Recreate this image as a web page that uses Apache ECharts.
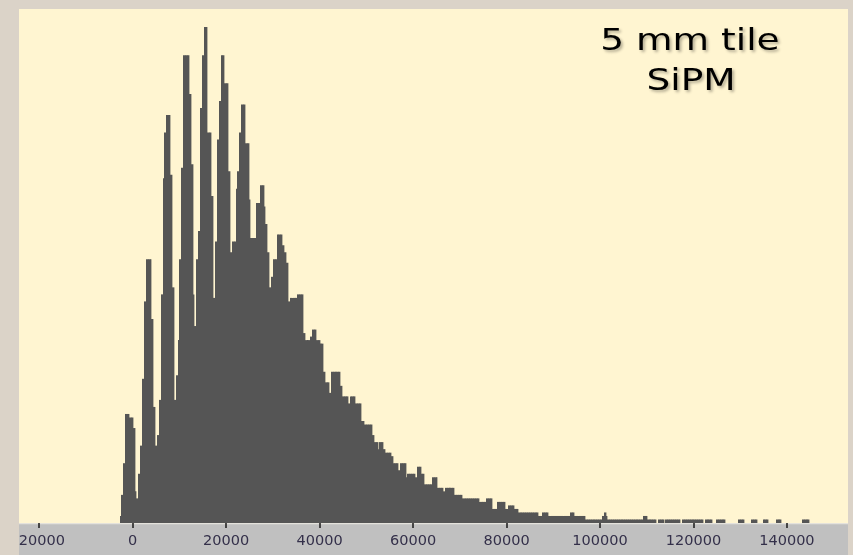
<!DOCTYPE html>
<html>
<head>
<meta charset="utf-8">
<script src="https://cdn.jsdelivr.net/npm/echarts@6/dist/echarts.min.js"></script>
<style>
html,body{margin:0;padding:0;background:#dbd3c8;}
#c{width:853px;height:555px;}
</style>
</head>
<body>
<div id="c"></div>
<script>
// Histogram of SiPM signal (5 mm tile)
const binStart = -2800;      // lower edge of first bin
const binWidth = 400;        // width of each bin
const counts = [
  2,8,17,31,31,30,30,27,9,7,
  14,22,41,63,75,75,75,58,33,22,
  25,35,65,98,111,116,116,99,67,35,
  42,52,75,101,133,133,133,122,102,65,
  56,75,83,118,133,141,141,111,111,93,
  64,80,109,120,133,133,125,125,100,77,
  80,80,95,100,111,119,119,108,108,92,
  81,81,81,91,91,96,96,90,85,77,
  67,70,75,75,82,82,82,79,77,74,
  63,64,64,64,64,65,65,65,54,52,
  52,52,53,55,55,52,52,51,51,43,
  40,40,37,43,43,43,43,43,39,36,
  36,36,34,36,36,36,34,34,34,29,
  29,28,28,28,28,25,23,23,21,23,
  23,21,20,20,20,19,17,17,17,15,
  17,17,17,13,14,14,14,14,13,16,
  16,14,14,11,11,11,11,13,13,13,
  10,10,10,9,10,10,10,10,10,8,
  8,8,8,7,7,7,7,7,7,7,
  7,7,6,6,6,6,7,7,7,4,
  4,4,6,6,6,6,4,4,5,5,
  5,4,4,3,3,3,3,3,3,3,
  3,3,3,3,2,2,3,3,3,2,
  2,2,2,2,2,2,2,2,2,2,
  2,3,3,2,2,2,2,2,2,1,
  1,1,1,1,1,1,1,1,2,3,
  2,1,1,1,1,1,1,1,1,1,
  1,1,1,1,1,1,1,1,1,1,
  2,2,1,1,1,1,1,0,1,1,
  1,0,1,1,1,1,1,1,1,1,
  0,1,1,1,1,1,1,1,1,1,
  1,1,0,1,1,1,1,0,0,1,
  1,1,1,1,0,0,0,0,0,0,
  0,1,1,1,0,0,0,0,1,1,
  1,0,0,0,1,1,1,0,0,0,
  0,1,1,1,0,0,0,0,0,0,
  0,0,0,0,0,1,1,1,1
];
const tickValues = [-20000, 0, 20000, 40000, 60000, 80000, 100000, 120000, 140000];
const titleLines = ['5 mm tile', 'SiPM'];

const binData = counts.map((c, i) => [binStart + i * binWidth, binStart + (i + 1) * binWidth, c]);

const chart = echarts.init(document.getElementById('c'), null, {renderer: 'canvas'});
chart.setOption({
  animation: false,
  backgroundColor: '#dbd3c8',
  grid: {left: 19, right: 5, top: 13, bottom: 32},
  xAxis: {
    type: 'value',
    min: -24330,
    max: 153070,
    position: 'bottom',
    offset: 3,
    axisLine: {show: false},
    splitLine: {show: false},
    axisTick: {show: true, customValues: tickValues, length: 5, inside: false,
      lineStyle: {color: '#1a1a1a', width: 1.5}},
    axisLabel: {customValues: tickValues, margin: 8, color: '#34304a',
      fontFamily: 'DejaVu Sans', fontSize: 14.5,
      formatter: v => String(v)}
  },
  yAxis: {
    type: 'value', min: 0, max: 145, show: false,
    splitLine: {show: false}
  },
  graphic: [
    {type: 'rect', z: -20, shape: {x: 19, y: 9, width: 829, height: 515}, style: {fill: '#fff5d1'}},
    {type: 'rect', z: -19, shape: {x: 19, y: 523, width: 829, height: 32}, style: {fill: '#c0c0c0'}},
    {type: 'rect', z: -18, shape: {x: 19, y: 523, width: 829, height: 1.2}, style: {fill: '#e4e2dc'}},
    {type: 'rect', z: 100, shape: {x: 0, y: 0, width: 19, height: 555}, style: {fill: '#dbd3c8'}},
    {type: 'rect', z: 100, shape: {x: 848, y: 0, width: 5, height: 555}, style: {fill: '#dbd3c8'}},
    {type: 'text', z: 100, x: 690, y: 42, scaleX: 1.25,
      style: {text: titleLines[0], fill: '#000', font: '30px "Comic Sans MS", "DejaVu Sans", sans-serif',
        align: 'center', verticalAlign: 'middle',
        textShadowColor: 'rgba(0,0,0,0.3)', textShadowBlur: 3, textShadowOffsetX: 2, textShadowOffsetY: 2}},
    {type: 'text', z: 100, x: 691, y: 82, scaleX: 1.25,
      style: {text: titleLines[1], fill: '#000', font: '30px "Comic Sans MS", "DejaVu Sans", sans-serif',
        align: 'center', verticalAlign: 'middle',
        textShadowColor: 'rgba(0,0,0,0.3)', textShadowBlur: 3, textShadowOffsetX: 2, textShadowOffsetY: 2}}
  ],
  series: [{
    type: 'custom',
    data: binData,
    encode: {x: [0, 1], y: 2},
    renderItem: function (params, api) {
      const c = api.value(2);
      if (!c) return null;
      const p0 = api.coord([api.value(0), c]);
      const p1 = api.coord([api.value(1), 0]);
      const x0 = Math.round(p0[0]);
      const x1 = Math.max(Math.round(p1[0]), x0 + 1);
      return {
        type: 'rect',
        shape: {x: x0, y: p0[1], width: x1 - x0 + 0.4, height: p1[1] - p0[1]},
        style: {fill: '#555555'}
      };
    },
    z: 2
  }]
});
</script>
</body>
</html>
